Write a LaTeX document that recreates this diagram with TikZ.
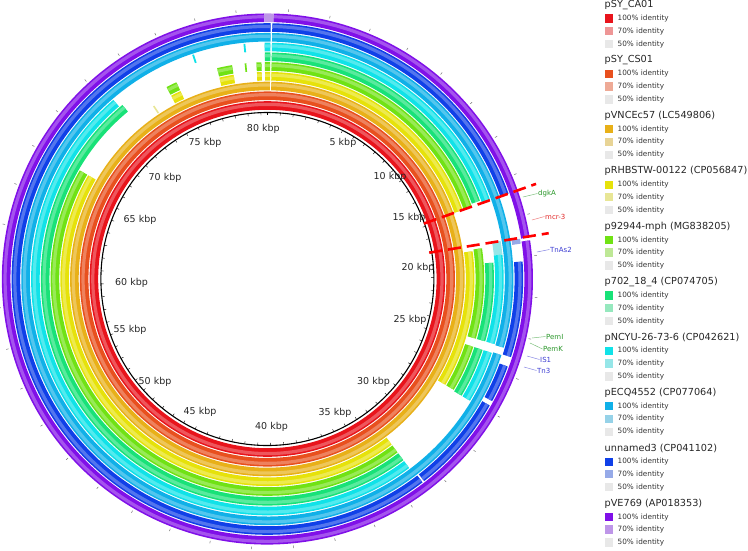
\documentclass[tikz,border=0pt]{standalone}
\usepackage{fontspec}
\setmainfont{DejaVu Sans}
\definecolor{cA}{RGB}{232,20,28}   \definecolor{lA}{RGB}{238,150,150}
\definecolor{cB}{RGB}{232,80,30}   \definecolor{lB}{RGB}{238,170,150}
\definecolor{cC}{RGB}{232,176,24}  \definecolor{lC}{RGB}{232,212,150}
\definecolor{cD}{RGB}{230,226,10}  \definecolor{lD}{RGB}{232,230,150}
\definecolor{cE}{RGB}{112,226,20}  \definecolor{lE}{RGB}{190,232,150}
\definecolor{cF}{RGB}{24,226,120}  \definecolor{lF}{RGB}{150,232,190}
\definecolor{cG}{RGB}{16,226,232}  \definecolor{lG}{RGB}{150,230,232}
\definecolor{cH}{RGB}{16,176,232}  \definecolor{lH}{RGB}{150,210,232}
\definecolor{cI}{RGB}{16,64,232}   \definecolor{lI}{RGB}{150,170,232}
\definecolor{cJ}{RGB}{128,16,232}  \definecolor{lJ}{RGB}{190,150,232}
\definecolor{gz}{RGB}{232,232,232}
\definecolor{geneG}{RGB}{40,150,40}
\definecolor{geneR}{RGB}{225,40,40}
\definecolor{geneB}{RGB}{60,60,210}
% ring segment: ring index, start kbp, end kbp, colour
\newcommand\ringseg[4]{%
  \draw[line width=8.6pt,color=#4] ({90-#2*4.47205}:{173.5+9.75*#1}) arc[start angle={90-#2*4.47205},end angle={90-#3*4.47205},radius={173.5pt+9.75pt*#1}];
  \draw[line width=3.2pt,color=#4!72!white] ({90-#2*4.47205}:{174.6+9.75*#1}) arc[start angle={90-#2*4.47205},end angle={90-#3*4.47205},radius={174.6pt+9.75pt*#1}];}
\newcommand\ringlite[4]{%
  \draw[line width=8.6pt,color=#4] ({90-#2*4.47205}:{173.5+9.75*#1}) arc[start angle={90-#2*4.47205},end angle={90-#3*4.47205},radius={173.5pt+9.75pt*#1}];}
\begin{document}
\begin{tikzpicture}[x=1pt,y=1pt]
\useasboundingbox (-267.4,-271) rectangle (480.6,279);
% ---------- rings ----------
\ringseg{0}{0}{80.5}{cA}
\ringseg{1}{0}{80.5}{cB}
\ringseg{2}{0.25}{80.67}{cC}
% yellow
\ringseg{3}{0.25}{15.77}{cD}\ringseg{3}{18.4}{27.0}{cD}\ringseg{3}{32.0}{67.1}{cD}
\ringseg{3}{74.3}{74.95}{cD}\ringseg{3}{77.5}{78.4}{cD}\ringseg{3}{79.85}{80.15}{cD}\ringseg{3}{80.35}{80.67}{cD}
\ringlite{3}{73.0}{73.1}{lD}
% lime
\ringseg{4}{0.25}{15.77}{cE}\ringseg{4}{18.3}{23.7}{cE}\ringseg{4}{24.2}{27.0}{cE}\ringseg{4}{32.0}{67.1}{cE}
\ringseg{4}{74.3}{74.95}{cE}\ringseg{4}{77.5}{78.4}{cE}\ringseg{4}{79.85}{80.15}{cE}\ringlite{4}{79.15}{79.25}{cE}\ringseg{4}{80.35}{80.67}{cE}
% green
\ringseg{5}{0.25}{15.6}{cF}\ringseg{5}{19.2}{23.7}{cF}\ringseg{5}{24.2}{27.06}{cF}\ringseg{5}{32.0}{71.6}{cF}\ringseg{5}{80.35}{80.67}{cF}
% cyan
\ringseg{6}{0.25}{15.77}{cG}\ringlite{6}{18.05}{18.8}{lG}\ringseg{6}{18.8}{23.7}{cG}\ringseg{6}{24.2}{27.06}{cG}\ringseg{6}{32.0}{71.4}{cG}
\ringlite{6}{76.35}{76.45}{cG}\ringlite{6}{79.2}{79.3}{cG}\ringseg{6}{80.35}{80.67}{cG}
% sky blue
\ringseg{7}{0.25}{23.75}{cH}\ringseg{7}{24.15}{80.67}{cH}
% blue
\ringseg{8}{0.25}{15.77}{cI}\ringlite{8}{18.1}{18.35}{lI}\ringseg{8}{19.25}{24.1}{cI}\ringseg{8}{24.6}{26.5}{cI}\ringseg{8}{26.75}{31.8}{cI}\ringseg{8}{31.9}{80.67}{cI}
% purple
\ringseg{9}{0.3}{18.1}{cJ}\ringseg{9}{18.25}{80.35}{cJ}\ringlite{9}{80.35}{80.8}{lJ}
% ---------- backbone circle and ticks ----------
\node[circle,draw=black,line width=1.1pt,minimum size=333pt,inner sep=0] (bb) at (0,0) {};
\foreach \k in {0,...,80}{\draw[line width=0.4pt] ({90-\k*4.47205}:166.5) -- ({90-\k*4.47205}:163.8);}
\foreach \k in {1,3,...,79}{\draw[line width=0.5pt,black!55] ({90-\k*4.47205}:268) -- ({90-\k*4.47205}:270.5);}
% ---------- mcr-3 region ----------
\coordinate (ua) at ({90-70.5}:166); \coordinate (ub) at ({90-70.5}:285);
\coordinate (la) at ({90-80.75}:164); \coordinate (lb) at ({90-80.75}:285);
\draw[red,line width=2.6pt,dash pattern=on 13pt off 6pt] (ua) -- (ub);
\draw[red,line width=2.6pt,dash pattern=on 13pt off 6pt] (la) -- (lb);
% ---------- image-coordinate scope ----------
\begin{scope}[shift={(-267.4,279)},y=-1pt]
% kbp labels
\foreach \k/\px/\py in {80/263.3/129,5/343/143,10/390/177,15/409/218,20/418/268,25/410/320,30/373.5/382,35/335/413,40/271.5/427,45/200/412,50/155/382,55/130/330,60/131.5/282.5,65/140/220,70/165/178,75/205/143}{%
  \node[inner sep=0,font=\fontsize{9.5}{11}\selectfont,text=black!85] (kl\k) at (\px,\py) {\k\ kbp};}
% gene labels
\tikzset{gene/.style={anchor=west,inner sep=0.5pt,font=\fontsize{7}{8}\selectfont}}
\node[gene,text=geneG] (g1) at (537.5,193.5) {dgkA};
\node[gene,text=geneR] (g2) at (544.5,216.5) {mcr-3};
\node[gene,text=geneB] (g3) at (549.5,249.5) {TnAs2};
\node[gene,text=geneG] (g4) at (545.5,336.5) {PemI};
\node[gene,text=geneG] (g5) at (542.5,349) {PemK};
\node[gene,text=geneB] (g6) at (539.5,359.5) {IS1};
\node[gene,text=geneB] (g7) at (536.5,370.5) {Tn3};
\coordinate (p1) at (523,197); \coordinate (p2) at (532,220); \coordinate (p3) at (537,252);
\coordinate (p4) at (532,338); \coordinate (p5) at (530,343); \coordinate (p6) at (527,356); \coordinate (p7) at (524,367);
\draw[geneG!60,line width=0.5pt] (p1) -- (g1.west);
\draw[geneR!60,line width=0.5pt] (p2) -- (g2.west);
\draw[geneB!60,line width=0.5pt] (p3) -- (g3.west);
\draw[geneG!60,line width=0.5pt] (p4) -- (g4.west);
\draw[geneG!60,line width=0.5pt] (p5) -- (g5.west);
\draw[geneB!60,line width=0.5pt] (p6) -- (g6.west);
\draw[geneB!60,line width=0.5pt] (p7) -- (g7.west);
% legend
\foreach \nm/\c [count=\g from 0] in {pSY\_CA01/A,pSY\_CS01/B,pVNCEc57 (LC549806)/C,pRHBSTW-00122 (CP056847)/D,p92944-mph (MG838205)/E,p702\_18\_4 (CP074705)/F,pNCYU-26-73-6 (CP042621)/G,pECQ4552 (CP077064)/H,unnamed3 (CP041102)/I,pVE769 (AP018353)/J}{%
  \node[anchor=west,inner sep=0,font=\fontsize{9.7}{11}\selectfont,text=black!85] (lt\g) at (604.5,{5+55.4*\g}) {\nm};
  \node[fill=c\c,minimum size=8.3pt,inner sep=0] (sa\g) at (609.2,{18.5+55.4*\g}) {};
  \node[fill=l\c,minimum size=8.3pt,inner sep=0] (sb\g) at (609.2,{31+55.4*\g}) {};
  \node[fill=gz,minimum size=8.3pt,inner sep=0] (sc\g) at (609.2,{44+55.4*\g}) {};
  \node[anchor=west,inner sep=0,font=\fontsize{7.3}{8}\selectfont,text=black!80] (ta\g) at (617.5,{18.5+55.4*\g}) {100\% identity};
  \node[anchor=west,inner sep=0,font=\fontsize{7.3}{8}\selectfont,text=black!80] (tb\g) at (617.5,{31+55.4*\g}) {70\% identity};
  \node[anchor=west,inner sep=0,font=\fontsize{7.3}{8}\selectfont,text=black!80] (tc\g) at (617.5,{44+55.4*\g}) {50\% identity};}
\end{scope}
\end{tikzpicture}
\end{document}
